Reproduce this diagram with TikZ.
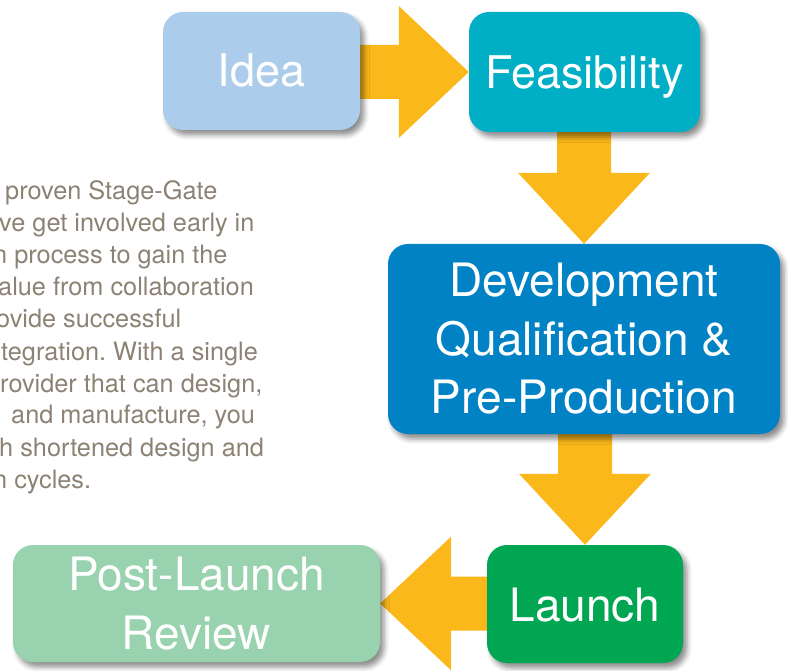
\documentclass[tikz,border=0pt]{standalone}
\usepackage{fontspec}
\setmainfont{TeX Gyre Heros}
\frenchspacing
\usetikzlibrary{calc,backgrounds,shadows.blur}
\definecolor{ideacol}{HTML}{ABCDEB}
\definecolor{feascol}{HTML}{00AEC6}
\definecolor{devcol}{HTML}{0082C5}
\definecolor{launchcol}{HTML}{00A651}
\definecolor{postcol}{HTML}{99D2AE}
\definecolor{arrowcol}{HTML}{FBB81A}
\definecolor{paratext}{HTML}{8C8274}
\begin{document}
\begin{tikzpicture}[x=1pt,y=-1pt,
  stagebox/.style={rounded corners=20pt, text=white, inner sep=0pt, align=center,
    blur shadow={shadow xshift=4pt, shadow yshift=-5pt, shadow blur radius=5pt, shadow opacity=45}},
  bigtext/.style={font=\fontsize{46}{58.5}\selectfont},
  midtext/.style={font=\fontsize{45}{58}\selectfont},
  paraline/.style={anchor=base west, inner sep=0pt, text=paratext, font=\fontsize{25.3}{32}\selectfont},
  fatarrow/.style={fill=arrowcol}]
\useasboundingbox (0,0) rectangle (788,671);

% stage boxes
\node[stagebox, midtext, fill=ideacol, minimum width=197pt, minimum height=118pt,
      text height=32pt, text depth=0pt] (idea) at (261.5,71) {Idea};
\node[stagebox, midtext, fill=feascol, minimum width=231pt, minimum height=120pt,
      text height=33pt, text depth=0pt] (feas) at (584.5,72) {Feasibility};
\node[stagebox, bigtext, fill=devcol, minimum width=392pt, minimum height=190pt] (dev) at (584,339)
      {Development\\Qualification \&\\Pre-Production};
\node[stagebox, bigtext, fill=launchcol, minimum width=196pt, minimum height=118pt,
      text height=34pt, text depth=0pt] (launch) at (585,604) {Launch};
\node[stagebox, bigtext, fill=postcol, minimum width=367pt, minimum height=117pt] (post) at (196.5,603.5)
      {Post-Launch\\Review};

% fat arrows behind the boxes
\begin{scope}[on background layer]
\fill[fatarrow] ($(idea.east |- feas.west)+(-20,-27)$) -- ($(feas.west)+(-70,-27)$)
  -- ($(feas.west)+(-70,-66)$) -- (feas.west) -- ($(feas.west)+(-70,66)$)
  -- ($(feas.west)+(-70,27)$) -- ($(idea.east |- feas.west)+(-20,27)$) -- cycle;
\fill[fatarrow] ($(dev.north |- feas.south)+(-27,-20)$) -- ($(dev.north)+(-27,-71)$)
  -- ($(dev.north)+(-66,-71)$) -- (dev.north) -- ($(dev.north)+(66,-71)$)
  -- ($(dev.north)+(27,-71)$) -- ($(dev.north |- feas.south)+(27,-20)$) -- cycle;
\fill[fatarrow] ($(launch.north |- dev.south)+(-27,-20)$) -- ($(launch.north)+(-27,-71)$)
  -- ($(launch.north)+(-66,-71)$) -- (launch.north) -- ($(launch.north)+(66,-71)$)
  -- ($(launch.north)+(27,-71)$) -- ($(launch.north |- dev.south)+(27,-20)$) -- cycle;
\fill[fatarrow] ($(launch.west |- post.east)+(20,-27)$) -- ($(post.east)+(71,-27)$)
  -- ($(post.east)+(71,-67)$) -- (post.east) -- ($(post.east)+(71,67)$)
  -- ($(post.east)+(71,27)$) -- ($(launch.west |- post.east)+(20,27)$) -- cycle;
\end{scope}

% paragraph (clipped at the left edge, as in the reference)
\node[paraline] (p1) at (5,200) {proven Stage-Gate};
\node[paraline] (p2) at (-1,232) {ve get involved early in};
\node[paraline] (p3) at (-7,264) {n process to gain the};
\node[paraline] (p4) at (-2,296) {alue from collaboration};
\node[paraline] (p5) at (-4,328) {ovide successful};
\node[paraline] (p6) at (1,360) {tegration. With a single};
\node[paraline] (p7) at (0,392) {rovider that can design,};
\node[paraline] (p8) at (11,424) {and manufacture, you};
\node[paraline] (p9) at (-1,456) {h shortened design and};
\node[paraline] (p10) at (-7,488) {n cycles.};
\end{tikzpicture}
\end{document}
